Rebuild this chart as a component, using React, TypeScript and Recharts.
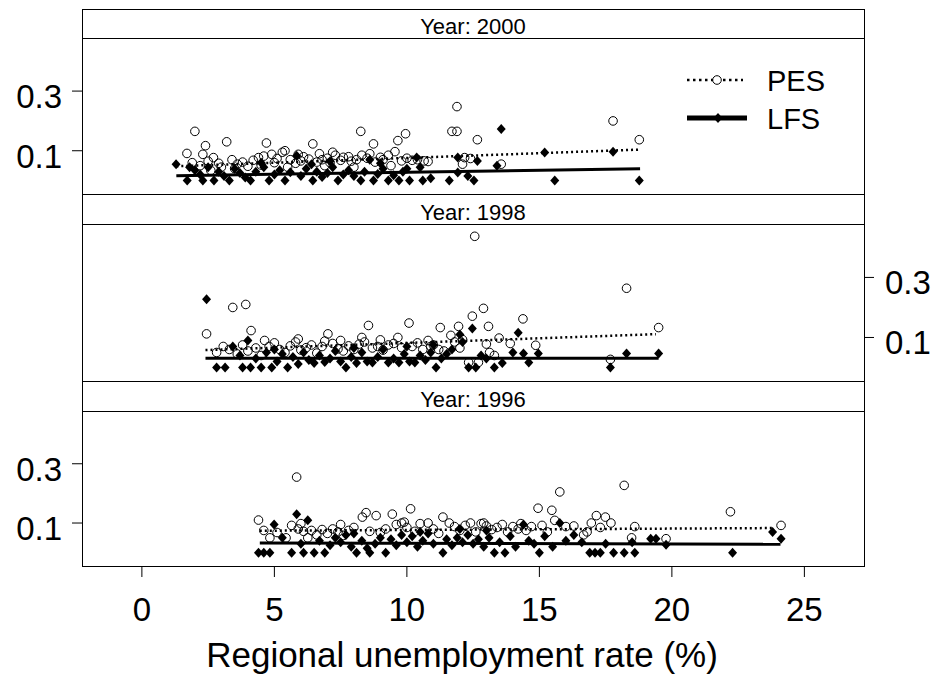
import { Scatter, ScatterChart, XAxis, YAxis, Legend } from 'recharts';

type Pt = [number, number];

const YEARS = ['2000', '1998', '1996'];
const SERIES = ['PES', 'LFS'];
const X_TICKS = [0, 5, 10, 15, 20, 25];
const Y_TICKS = [0.1, 0.3];
const X_LABEL = 'Regional unemployment rate (%)';

// Year 2000
const PES_2000: Pt[] = [
  [1.7, 0.091], [2.0, 0.165], [2.3, 0.088], [2.4, 0.117], [2.7, 0.077], [3.2, 0.13], [1.9, 0.06], [2.2, 0.05],
  [2.5, 0.065], [2.9, 0.058], [3.0, 0.045], [3.4, 0.07], [3.6, 0.055], [3.8, 0.062], [4.0, 0.048], [4.2, 0.068],
  [4.4, 0.077], [4.6, 0.082], [4.7, 0.126], [4.9, 0.088], [5.0, 0.06], [5.1, 0.074], [5.3, 0.095], [5.4, 0.1],
  [5.6, 0.07], [5.8, 0.058], [6.0, 0.066], [6.1, 0.08], [6.3, 0.072], [6.45, 0.123], [6.6, 0.062], [6.8, 0.07],
  [7.0, 0.075], [7.1, 0.06], [7.3, 0.085], [7.5, 0.068], [7.6, 0.078], [7.8, 0.08], [7.9, 0.065], [8.1, 0.07],
  [8.26, 0.165], [8.3, 0.085], [8.5, 0.075], [8.6, 0.09], [8.74, 0.123], [8.8, 0.062], [9.0, 0.078], [9.1, 0.07],
  [9.3, 0.085], [9.55, 0.097], [9.66, 0.134], [9.8, 0.066], [9.95, 0.157], [10.0, 0.075], [10.2, 0.068], [10.4, 0.07],
  [10.65, 0.066], [10.8, 0.064], [11.7, 0.165], [11.89, 0.165], [11.89, 0.248], [12.18, 0.077], [12.4, 0.074],
  [12.66, 0.137], [12.1, 0.055], [13.56, 0.055], [17.78, 0.2], [18.77, 0.137], [2.6, 0.034], [3.5, 0.04], [5.5, 0.045],
  [6.9, 0.05], [8.0, 0.045], [9.4, 0.05], [4.5, 0.052], [5.9, 0.088], [7.2, 0.095], [6.7, 0.09],
];
const LFS_2000: Pt[] = [
  [1.29, 0.055], [1.71, 0], [2.0, 0.035], [2.2, 0.02], [2.3, 0], [2.5, 0.045], [2.72, 0], [2.9, 0.03], [3.1, 0.015],
  [3.3, 0], [3.5, 0.04], [3.7, 0.025], [3.9, 0.01], [4.1, 0], [4.3, 0.03], [4.6, 0.045], [4.8, 0], [5.0, 0.02],
  [5.2, 0.035], [5.4, 0], [5.6, 0.028], [5.84, 0.083], [6.0, 0.015], [6.2, 0.04], [6.45, 0], [6.6, 0.03], [6.8, 0.012],
  [7.0, 0.025], [7.2, 0.045], [7.4, 0], [7.6, 0.02], [7.8, 0.035], [8.0, 0.015], [8.26, 0], [8.4, 0.03], [8.6, 0.07],
  [8.74, 0], [8.9, 0.022], [9.1, 0.04], [9.3, 0], [9.5, 0.018], [9.7, 0], [9.85, 0.03], [10.0, 0.04], [10.1, 0],
  [10.37, 0.077], [10.5, 0.045], [10.6, 0], [10.9, 0.008], [11.6, 0], [11.92, 0.077], [11.92, 0.027], [12.3, 0.015],
  [12.53, 0], [12.66, 0.066], [13.4, 0.05], [13.56, 0.173], [15.2, 0.094], [15.58, 0], [17.78, 0.097], [18.77, 0],
  [1.8, 0.045], [4.5, 0.06], [7.1, 0.065], [9.0, 0.058], [6.4, 0.055],
];
const PES_FIT_2000: Pt[] = [[1.3, 0.048], [18.8, 0.104]];
const LFS_FIT_2000: Pt[] = [[1.3, 0.016], [18.8, 0.04]];

// Year 1998
const PES_1998: Pt[] = [
  [2.44, 0.112], [2.82, 0.05], [3.07, 0.07], [3.43, 0.2], [3.92, 0.21], [4.12, 0.123], [4.63, 0.09], [3.3, 0.06],
  [3.6, 0.045], [3.8, 0.075], [4.0, 0.055], [4.3, 0.065], [4.5, 0.04], [4.8, 0.07], [5.0, 0.082], [5.2, 0.06],
  [5.4, 0.05], [5.6, 0.072], [5.8, 0.085], [6.0, 0.058], [6.2, 0.066], [6.4, 0.075], [6.6, 0.048], [6.8, 0.07],
  [7.02, 0.112], [7.2, 0.08], [7.4, 0.062], [7.6, 0.055], [7.8, 0.072], [8.0, 0.06], [8.2, 0.078], [8.4, 0.085],
  [8.55, 0.14], [8.3, 0.1], [8.7, 0.065], [8.9, 0.07], [9.1, 0.058], [9.3, 0.075], [9.5, 0.08], [9.66, 0.1],
  [9.8, 0.066], [10.08, 0.148], [10.2, 0.07], [10.4, 0.082], [10.6, 0.06], [10.8, 0.09], [11.0, 0.075], [11.26, 0.133],
  [11.4, 0.055], [11.66, 0.107], [11.8, 0.085], [11.95, 0.137], [12.1, 0.093], [12.33, 0.017], [12.47, 0.171],
  [12.56, 0.437], [12.7, 0.017], [12.89, 0.197], [13.08, 0.137], [13.0, 0.078], [13.12, 0.05], [13.3, 0.04],
  [13.48, 0.098], [13.9, 0.08], [14.38, 0.162], [14.86, 0.074], [17.68, 0.027], [18.29, 0.264], [19.5, 0.133],
  [5.9, 0.095], [7.5, 0.09], [9.0, 0.092], [6.9, 0.088], [11.2, 0.06], [12.0, 0.065], [10.9, 0.07],
];
const LFS_1998: Pt[] = [
  [2.44, 0.227], [2.82, 0], [3.14, 0], [3.43, 0.07], [3.7, 0.04], [3.8, 0], [4.0, 0.09], [4.1, 0], [4.3, 0.03],
  [4.5, 0], [4.7, 0.05], [4.9, 0], [5.1, 0.02], [5.3, 0.045], [5.5, 0], [5.7, 0.035], [5.9, 0.012], [6.1, 0.05],
  [6.3, 0.025], [6.5, 0.015], [6.7, 0.04], [6.9, 0.018], [7.1, 0.03], [7.3, 0.055], [7.5, 0.02], [7.7, 0],
  [7.9, 0.035], [8.1, 0.015], [8.3, 0.05], [8.5, 0.02], [8.7, 0.017], [8.9, 0.035], [9.1, 0.06], [9.3, 0.017],
  [9.5, 0.03], [9.7, 0.017], [9.9, 0.045], [10.1, 0.02], [10.3, 0.017], [10.5, 0.04], [10.7, 0.025], [10.9, 0.05],
  [11.1, 0], [11.3, 0.03], [11.5, 0.045], [11.7, 0.06], [12.0, 0.11], [12.1, 0.085], [12.33, 0], [12.47, 0.13],
  [12.6, 0], [12.8, 0.04], [13.0, 0.03], [13.3, 0], [13.6, 0.015], [14.0, 0.05], [14.2, 0.116], [14.4, 0.047],
  [14.6, 0.017], [14.96, 0.047], [17.68, 0], [18.29, 0.047], [19.5, 0.047], [5.0, 0.06], [8.0, 0.065], [10.0, 0.07],
  [11.0, 0.075],
];
const PES_FIT_1998: Pt[] = [[2.4, 0.058], [19.4, 0.111]];
const LFS_FIT_1998: Pt[] = [[2.4, 0.031], [19.5, 0.031]];

// Year 1996
const PES_1996: Pt[] = [
  [4.4, 0.11], [4.6, 0.075], [4.83, 0.05], [5.1, 0.068], [5.44, 0.05], [5.65, 0.092], [5.84, 0.255], [5.9, 0.08],
  [6.1, 0.072], [6.26, 0.05], [6.4, 0.075], [6.6, 0.06], [6.8, 0.078], [7.0, 0.065], [7.2, 0.08], [7.4, 0.07],
  [7.6, 0.058], [7.8, 0.075], [8.0, 0.085], [8.32, 0.12], [8.46, 0.135], [8.6, 0.072], [8.84, 0.125], [9.0, 0.068],
  [9.2, 0.08], [9.45, 0.13], [9.6, 0.095], [9.8, 0.1], [10.0, 0.085], [10.14, 0.148], [10.3, 0.072], [10.5, 0.098],
  [10.8, 0.1], [11.0, 0.08], [11.2, 0.065], [11.36, 0.12], [11.6, 0.1], [11.8, 0.088], [12.0, 0.075], [12.2, 0.092],
  [12.4, 0.1], [12.6, 0.07], [12.8, 0.098], [13.0, 0.09], [13.2, 0.078], [13.4, 0.085], [13.6, 0.095], [13.8, 0.07],
  [14.0, 0.088], [14.2, 0.08], [14.5, 0.075], [14.7, 0.088], [14.95, 0.15], [15.1, 0.092], [15.3, 0.07], [15.47, 0.143],
  [15.58, 0.109], [15.77, 0.205], [16.0, 0.088], [16.3, 0.09], [16.67, 0.06], [16.8, 0.07], [16.96, 0.1], [17.15, 0.125],
  [17.3, 0.085], [17.49, 0.12], [17.7, 0.1], [18.2, 0.227], [18.48, 0.05], [18.6, 0.088], [19.78, 0.047], [22.21, 0.138],
  [24.12, 0.092], [6.0, 0.098], [7.5, 0.095], [9.9, 0.103], [12.9, 0.1], [14.3, 0.098],
];
const LFS_1996: Pt[] = [
  [4.4, 0], [4.6, 0], [4.83, 0], [4.99, 0.095], [5.3, 0.05], [5.65, 0], [5.84, 0.13], [6.0, 0.03], [6.26, 0.109],
  [6.1, 0], [6.5, 0], [6.7, 0.04], [6.9, 0], [7.1, 0.025], [7.3, 0.05], [7.5, 0.035], [7.7, 0.06], [7.9, 0.02],
  [8.1, 0], [8.3, 0.04], [8.5, 0.015], [8.6, 0], [8.8, 0.03], [9.0, 0.05], [9.2, 0], [9.4, 0.045], [9.6, 0.025],
  [9.8, 0.06], [10.0, 0.035], [10.2, 0.055], [10.4, 0.02], [10.6, 0.04], [10.8, 0.065], [11.0, 0.03], [11.36, 0],
  [11.5, 0.045], [11.7, 0.025], [11.9, 0.05], [12.1, 0.035], [12.3, 0.06], [12.5, 0.03], [12.7, 0.045], [12.9, 0.02],
  [13.1, 0.05], [13.3, 0], [13.5, 0.035], [13.7, 0], [13.9, 0.055], [14.1, 0.02], [14.4, 0.095], [14.6, 0.04],
  [14.8, 0.03], [15.0, 0], [15.2, 0.055], [15.5, 0.02], [15.77, 0.1], [16.0, 0.04], [16.3, 0.06], [16.6, 0.035],
  [16.9, 0], [17.1, 0], [17.3, 0], [17.5, 0.03], [17.8, 0], [18.2, 0], [18.5, 0.035], [18.6, 0], [19.2, 0.047],
  [19.4, 0.047], [19.78, 0.027], [22.29, 0], [23.8, 0.07], [24.12, 0.047], [8.0, 0.065], [10.5, 0.07], [12.0, 0.08],
  [13.0, 0.075],
];
const PES_FIT_1996: Pt[] = [[4.45, 0.074], [23.8, 0.083]];
const LFS_FIT_1996: Pt[] = [[4.45, 0.033], [24.1, 0.028]];

const X_DOMAIN: [number, number] = [-2.26, 27.25];
const Y_DOMAIN: [number, number] = [-0.045, 0.478];

const FONT = '"Liberation Sans", Arial, Helvetica, sans-serif';
const W = 942;
const H = 679;
const PLOT_LEFT = 82;
const PLOT_RIGHT = 864;
const TITLE_CENTER = 462;

type PanelLayout = {
  chartTop: number;
  chartHeight: number;
  plotTop: number;
  plotHeight: number;
  stripTop: number;
  axis: 'left' | 'right';
  showX: boolean;
};

const LAYOUTS: PanelLayout[] = [
  { chartTop: 0, chartHeight: 200, plotTop: 38, plotHeight: 156, stripTop: 9, axis: 'left', showX: false },
  { chartTop: 190, chartHeight: 200, plotTop: 224, plotHeight: 157, stripTop: 194, axis: 'right', showX: false },
  { chartTop: 380, chartHeight: 299, plotTop: 411, plotHeight: 155, stripTop: 381, axis: 'left', showX: true },
];

const toPoints = (rows: Pt[]) => rows.map(([x, y]) => ({ x, y }));

const PANELS = [
  { year: YEARS[0], pes: PES_2000, lfs: LFS_2000, pesFit: PES_FIT_2000, lfsFit: LFS_FIT_2000 },
  { year: YEARS[1], pes: PES_1998, lfs: LFS_1998, pesFit: PES_FIT_1998, lfsFit: LFS_FIT_1998 },
  { year: YEARS[2], pes: PES_1996, lfs: LFS_1996, pesFit: PES_FIT_1996, lfsFit: LFS_FIT_1996 },
];

function Label({ x, y, anchor, size, children }: any) {
  return (
    <text x={x} y={y} textAnchor={anchor} fontSize={size} fontFamily={FONT} fill='#000'>
      {children}
    </text>
  );
}

function OpenCircle({ cx, cy }: any) {
  return <circle cx={cx} cy={cy} r={4.3} fill='none' stroke='#000' strokeWidth={1} />;
}

function Diamond({ cx, cy }: any) {
  return <polygon points={`${cx},${cy - 5} ${cx + 4.5},${cy} ${cx},${cy + 5} ${cx - 4.5},${cy}`} fill='#000' />;
}

function NoDot() {
  return <g />;
}

function YTick({ x, y, payload, textAnchor }: any) {
  return (
    <Label x={x} y={y + 17} anchor={textAnchor} size={33}>
      {String(payload.value)}
    </Label>
  );
}

function XTick({ x, y, payload }: any) {
  return (
    <Label x={x} y={y + 42} anchor='middle' size={33}>
      {String(payload.value)}
    </Label>
  );
}

function XTitle({ viewBox }: any) {
  return (
    <Label x={TITLE_CENTER} y={viewBox.y + 101} anchor='middle' size={35}>
      {X_LABEL}
    </Label>
  );
}

function Key() {
  return (
    <svg width={W} height={200} style={{ display: 'block' }}>
      <line x1={687} x2={743} y1={80} y2={80} stroke='#000' strokeWidth={2.5} strokeDasharray='2.5 3.5' />
      <circle cx={717} cy={80} r={4.3} fill='#fff' stroke='#000' strokeWidth={1} />
      <Label x={767} y={91} anchor='start' size={29}>
        {SERIES[0]}
      </Label>
      <line x1={687} x2={747} y1={118} y2={118} stroke='#000' strokeWidth={5} />
      <polygon points='718,113 722.5,118 718,123 713.5,118' fill='#000' />
      <Label x={767} y={129} anchor='start' size={29}>
        {SERIES[1]}
      </Label>
    </svg>
  );
}

export default function App() {
  return (
    <div style={{ position: 'absolute', left: 0, top: 0, width: W, height: H, background: '#fff' }}>
      {PANELS.map((panel, i) => {
        const lay = LAYOUTS[i];
        const marginTop = lay.plotTop - lay.chartTop;
        const xHeight = lay.showX ? lay.chartHeight - marginTop - lay.plotHeight : 0;
        const marginBottom = lay.showX ? 0 : lay.chartHeight - marginTop - lay.plotHeight;
        const left = lay.axis === 'left' ? 0 : PLOT_LEFT;
        const right = lay.axis === 'right' ? 0 : W - PLOT_RIGHT;
        return (
          <div key={panel.year} style={{ position: 'absolute', left: 0, top: lay.chartTop }}>
            <ScatterChart
              width={W}
              height={lay.chartHeight}
              margin={{ top: marginTop, right, bottom: marginBottom, left }}
            >
              <XAxis
                type='number'
                dataKey='x'
                domain={X_DOMAIN}
                ticks={X_TICKS}
                allowDataOverflow
                hide={!lay.showX}
                height={xHeight}
                axisLine={false}
                tickSize={11}
                tickLine={{ stroke: '#000' }}
                tick={<XTick />}
                label={lay.showX ? <XTitle /> : undefined}
              />
              <YAxis
                type='number'
                dataKey='y'
                orientation={lay.axis}
                domain={Y_DOMAIN}
                ticks={Y_TICKS}
                allowDataOverflow
                width={lay.axis === 'left' ? PLOT_LEFT : W - PLOT_RIGHT}
                axisLine={false}
                tickSize={10}
                tickMargin={lay.axis === 'left' ? 10 : 11}
                tickLine={{ stroke: '#000' }}
                tick={<YTick />}
              />
              <Scatter name={SERIES[0]} data={toPoints(panel.pes)} shape={OpenCircle} isAnimationActive={false} />
              <Scatter name={SERIES[1]} data={toPoints(panel.lfs)} shape={Diamond} isAnimationActive={false} />
              <Scatter
                data={toPoints(panel.pesFit)}
                line={{ stroke: '#000', strokeWidth: 2.5, strokeDasharray: '2 3' }}
                shape={NoDot}
                isAnimationActive={false}
              />
              <Scatter
                data={toPoints(panel.lfsFit)}
                line={{ stroke: '#000', strokeWidth: 3 }}
                shape={NoDot}
                isAnimationActive={false}
              />
              {i === 0 && (
                <Legend
                  layout='horizontal'
                  verticalAlign='middle'
                  align='center'
                  content={<Key />}
                  wrapperStyle={{ left: 0, top: 0, width: W, height: 200 }}
                />
              )}
            </ScatterChart>
          </div>
        );
      })}
      <svg
        width={W}
        height={H}
        style={{ position: 'absolute', left: 0, top: 0, pointerEvents: 'none' }}
      >
        {PANELS.map((panel, i) => {
          const lay = LAYOUTS[i];
          const w = PLOT_RIGHT - PLOT_LEFT;
          return (
            <g key={panel.year}>
              <rect
                x={PLOT_LEFT + 0.5}
                y={lay.stripTop + 0.5}
                width={w}
                height={lay.plotTop - lay.stripTop}
                fill='#fff'
                stroke='#000'
              />
              <Label x={(PLOT_LEFT + PLOT_RIGHT) / 2} y={lay.plotTop - 4} anchor='middle' size={22}>
                {`Year: ${panel.year}`}
              </Label>
              <rect
                x={PLOT_LEFT + 0.5}
                y={lay.plotTop + 0.5}
                width={w}
                height={lay.plotHeight}
                fill='none'
                stroke='#000'
              />
            </g>
          );
        })}
      </svg>
    </div>
  );
}
